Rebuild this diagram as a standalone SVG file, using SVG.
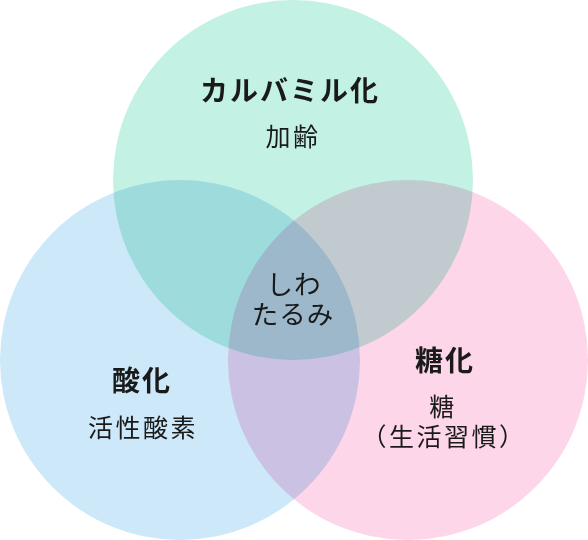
<svg xmlns="http://www.w3.org/2000/svg" width="588" height="540" viewBox="0 0 588 540">
<style>
.c{mix-blend-mode:multiply}
text{font-family:"Noto Sans CJK JP","Noto Sans",sans-serif;fill:#1a1a1a;text-anchor:middle}
.t{font-size:28px;font-weight:700;letter-spacing:2px}
.s{font-size:25px;letter-spacing:2.5px}
.m{font-size:26.5px;letter-spacing:1px}
</style>
<rect width="588" height="540" fill="#fff"/>
<g id="circles" style="isolation:isolate">
<circle id="top-circle" class="c" cx="293" cy="180" r="180" fill="#c3f1e3"/>
<circle id="left-circle" class="c" cx="180" cy="360" r="180" fill="#cde8f9"/>
<circle id="right-circle" class="c" cx="408" cy="360" r="180" fill="#fdd6e9"/>
</g>
<g id="node-top">
<text class="t" x="290" y="101">カルバミル化</text>
<text class="s" x="293" y="146">加齢</text>
</g>
<g id="node-center">
<text class="m" x="294" y="294">しわ</text>
<text class="m" x="293" y="324">たるみ</text>
</g>
<g id="node-left">
<text class="t" x="142" y="391">酸化</text>
<text class="s" x="143" y="437">活性酸素</text>
</g>
<g id="node-right">
<text class="t" x="445" y="371">糖化</text>
<text class="s" x="443" y="416">糖</text>
<text class="s" x="444" y="446">（生活習慣）</text>
</g>
</svg>
